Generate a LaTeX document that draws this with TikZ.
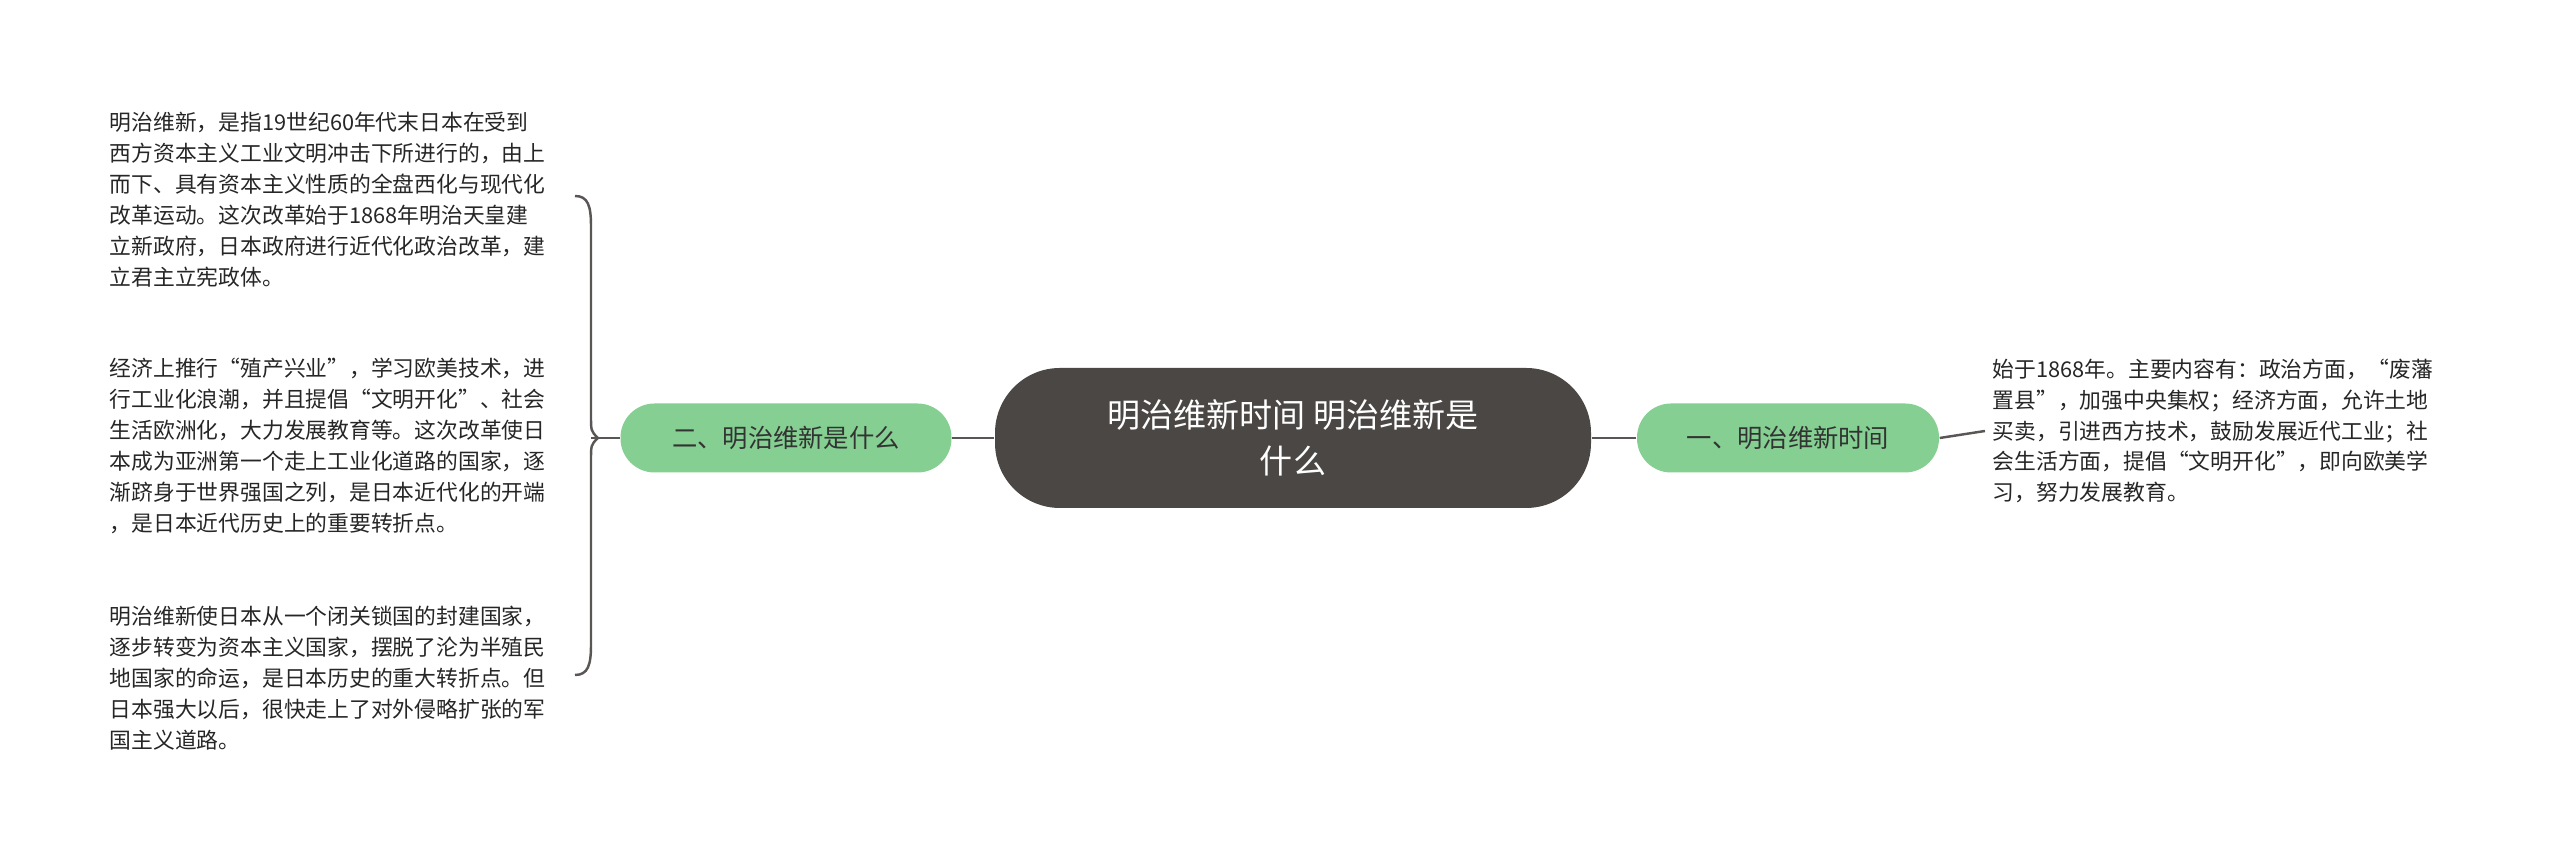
\documentclass[tikz,border=0pt]{standalone}
\usepackage{fontspec}
\setmainfont{Noto Sans CJK SC}
\usetikzlibrary{positioning, calc}
\definecolor{rootgray}{HTML}{4B4745}
\definecolor{leafgreen}{HTML}{84CF91}
\definecolor{linegray}{HTML}{5A5655}
\begin{document}
\begin{tikzpicture}[
        rootbox/.style={fill=rootgray, text=white, rounded corners=0.65cm, minimum width=5.96cm, minimum height=1.40cm, align=center, font=\fontsize{9.4}{13}\selectfont},
        branchbox/.style={fill=leafgreen, text=black!80, rounded corners=0.34cm, minimum height=0.69cm, font=\fontsize{7.2}{9}\selectfont},
        leaftext/.style={align=left, inner sep=0pt, text=black!85, font=\fontsize{6.2}{8.8}\selectfont},
        link/.style={draw=linegray, line width=0.7pt}
    ]
    \useasboundingbox (0,0) rectangle (25.6,8.61);

    % --- Root ---
    \node[rootbox] (root) at (12.93, 4.23) {明治维新时间 明治维新是\\什么};

    % --- Right branch ---
    \node[branchbox, minimum width=3.02cm] (b1) at (17.88, 4.23) {一、明治维新时间};
    \node[leaftext, anchor=west] (t1) at (19.92, 4.30) {始于1868年。主要内容有：政治方面，“废藩\\置县”，加强中央集权；经济方面，允许土地\\买卖，引进西方技术，鼓励发展近代工业；社\\会生活方面，提倡“文明开化”，即向欧美学\\习，努力发展教育。};
    \draw[link] (root.east) -- (b1.west);
    \draw[link] (b1.east) -- (t1.west -| 19.85,0) coordinate (t1in);

    % --- Left branch ---
    \node[branchbox, minimum width=3.31cm] (b2) at (7.86, 4.23) {二、明治维新是什么};
    \node[leaftext, anchor=west] (l1) at (1.09, 6.61) {明治维新，是指19世纪60年代末日本在受到\\西方资本主义工业文明冲击下所进行的，由上\\而下、具有资本主义性质的全盘西化与现代化\\改革运动。这次改革始于1868年明治天皇建\\立新政府，日本政府进行近代化政治改革，建\\立君主立宪政体。};
    \node[leaftext, anchor=west] (l2) at (1.09, 4.15) {经济上推行“殖产兴业”，学习欧美技术，进\\行工业化浪潮，并且提倡“文明开化”、社会\\生活欧洲化，大力发展教育等。这次改革使日\\本成为亚洲第一个走上工业化道路的国家，逐\\渐跻身于世界强国之列，是日本近代化的开端\\，是日本近代历史上的重要转折点。};
    \node[leaftext, anchor=west] (l3) at (1.09, 1.83) {明治维新使日本从一个闭关锁国的封建国家，\\逐步转变为资本主义国家，摆脱了沦为半殖民\\地国家的命运，是日本历史的重大转折点。但\\日本强大以后，很快走上了对外侵略扩张的军\\国主义道路。};

    % Brace
    \draw[link] (root.west) -- (b2.east);
    \draw[link] (b2.west) -- ++(-0.22,0) coordinate (j);
    \coordinate (top) at (5.75, 6.65);
    \coordinate (bot) at (5.75, 1.86);
    \draw[link] (top) .. controls (5.88,6.65) and (5.91,6.55) .. (5.91,6.35)
        -- (5.91,4.45) .. controls (5.91,4.30) .. (j);
    \draw[link] (bot) .. controls (5.88,1.86) and (5.91,1.96) .. (5.91,2.16)
        -- (5.91,4.01) .. controls (5.91,4.16) .. (j);
    \draw[link] (j) -- (5.91,4.23);
\end{tikzpicture}
\end{document}
